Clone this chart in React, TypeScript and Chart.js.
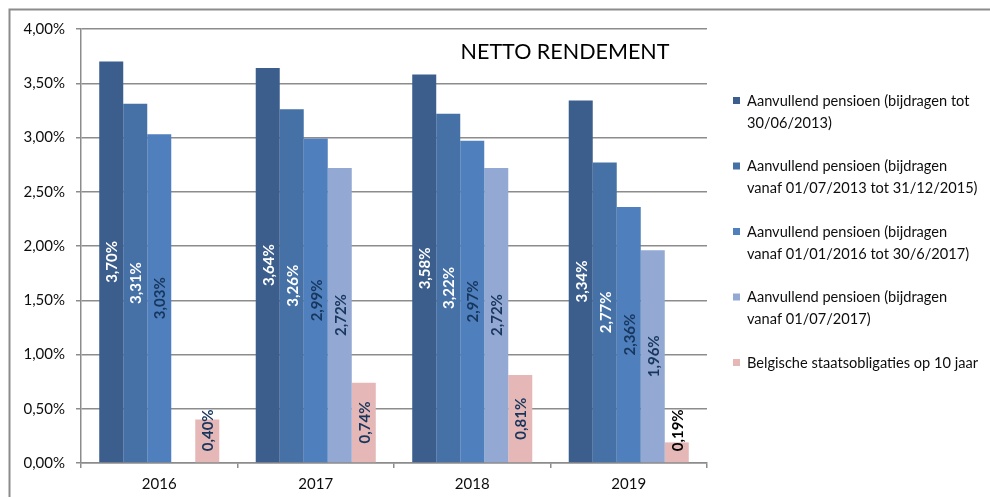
import React, { useEffect, useRef } from "react";
import { Chart, registerables } from "chart.js";

Chart.register(...registerables);

const categories = ["2016", "2017", "2018", "2019"];
const seriesLabels = [
  ["Aanvullend pensioen (bijdragen tot", "30/06/2013)"],
  ["Aanvullend pensioen (bijdragen", "vanaf 01/07/2013 tot 31/12/2015)"],
  ["Aanvullend pensioen (bijdragen", "vanaf 01/01/2016 tot 30/6/2017)"],
  ["Aanvullend pensioen (bijdragen", "vanaf 01/07/2017)"],
  ["Belgische staatsobligaties op 10 jaar"],
];
const s1 = [3.7, 3.64, 3.58, 3.34];
const s2 = [3.31, 3.26, 3.22, 2.77];
const s3 = [3.03, 2.99, 2.97, 2.36];
const s4 = [null, 2.72, 2.72, 1.96];
const s5 = [0.4, 0.74, 0.81, 0.19];
const seriesColors = ["#3B5E8C", "#4571A6", "#4F7FBC", "#93A9D3", "#E5B8B7"];
const labelColors = [
  ["#FFFFFF", "#FFFFFF", "#FFFFFF", "#FFFFFF"],
  ["#FFFFFF", "#FFFFFF", "#FFFFFF", "#FFFFFF"],
  ["#17365D", "#17365D", "#17365D", "#17365D"],
  ["#17365D", "#17365D", "#17365D", "#17365D"],
  ["#17365D", "#17365D", "#17365D", "#000000"],
];
const chartTitle = "NETTO RENDEMENT";
const FONT = "Lato, 'Open Sans', sans-serif";

const fmt = (v: number) => v.toFixed(2).replace(".", ",") + "%";

const decorPlugin = {
  id: "decor",
  beforeDraw(chart: any) {
    const ctx = chart.ctx;
    ctx.save();
    ctx.fillStyle = "#ffffff";
    ctx.fillRect(0, 0, chart.width, chart.height);
    ctx.strokeStyle = "#8c8c8c";
    ctx.lineWidth = 2;
    ctx.beginPath();
    ctx.moveTo(9.5, chart.height);
    ctx.lineTo(9.5, 9.5);
    ctx.lineTo(chart.width, 9.5);
    ctx.stroke();
    ctx.restore();
  },
  afterDatasetsDraw(chart: any) {
    const ctx = chart.ctx;
    ctx.save();
    ctx.font = "bold 15px " + FONT;
    ctx.textAlign = "center";
    ctx.textBaseline = "middle";
    chart.data.datasets.forEach((ds: any, di: number) => {
      const meta = chart.getDatasetMeta(di);
      meta.data.forEach((el: any, i: number) => {
        const v = ds.data[i];
        if (v === null || v === undefined) return;
        const text = fmt(v);
        const w = ctx.measureText(text).width;
        let cy = (el.y + el.base) / 2;
        cy = Math.min(cy, el.base - 11 - w / 2);
        ctx.save();
        ctx.translate(el.x + 1, cy);
        ctx.rotate(-Math.PI / 2);
        ctx.fillStyle = labelColors[di][i];
        ctx.fillText(text, 0, 0);
        ctx.restore();
      });
    });
    ctx.restore();
  },
  afterDraw(chart: any) {
    const ctx = chart.ctx;
    ctx.save();
    ctx.fillStyle = "#000000";
    ctx.font = "21.5px " + FONT;
    ctx.textAlign = "center";
    ctx.textBaseline = "middle";
    ctx.fillText(chartTitle, 565, 52);

    // legend
    ctx.font = "14.6px " + FONT;
    ctx.textAlign = "left";
    const startY = 101;
    const step = 65.5;
    const lineH = 22;
    seriesLabels.forEach((lines, i) => {
      const y = startY + i * step;
      ctx.fillStyle = seriesColors[i];
      ctx.fillRect(733, y - 4, 7, 7);
      ctx.fillStyle = "#0d0d0d";
      lines.forEach((ln, j) => {
        ctx.fillText(ln, 747, y + j * lineH);
      });
    });
    ctx.restore();
  },
};

export default function App() {
  const ref = useRef<HTMLCanvasElement>(null);
  useEffect(() => {
    document.body.style.margin = "0";
    const seriesData = [s1, s2, s3, s4, s5];
    const chart = new Chart(ref.current!, {
      type: "bar",
      data: {
        labels: categories,
        datasets: seriesData.map((d, i) => ({
          label: seriesLabels[i].join(" "),
          data: d as any,
          backgroundColor: seriesColors[i],
          borderWidth: 0,
          categoryPercentage: 0.767,
          barPercentage: 1,
        })),
      },
      options: {
        responsive: false,
        animation: false,
        layout: { padding: { top: 29, right: 283, bottom: 0, left: 0 } },
        plugins: {
          legend: { display: false },
          tooltip: { enabled: false },
          title: { display: false },
        },
        scales: {
          x: {
            afterFit: (s: any) => {
              s.height = 34;
            },
            grid: {
              offset: true,
              drawOnChartArea: false,
              drawTicks: true,
              tickLength: 5,
              color: "#8c8c8c",
              lineWidth: 1.5,
            },
            border: { display: true, color: "#8c8c8c", width: 1.5 },
            ticks: {
              color: "#0d0d0d",
              font: { family: FONT, size: 15 },
              padding: 7,
            },
          },
          y: {
            min: 0,
            max: 4,
            afterFit: (s: any) => {
              s.width = 81;
            },
            grid: {
              color: "#8c8c8c",
              lineWidth: 1.5,
              drawTicks: true,
              tickLength: 5,
            },
            border: { display: true, color: "#8c8c8c", width: 1.5 },
            ticks: {
              stepSize: 0.5,
              color: "#0d0d0d",
              font: { family: FONT, size: 15 },
              padding: 11,
              callback: (v: any) => fmt(Number(v)),
            },
          },
        },
      },
      plugins: [decorPlugin],
    });
    return () => chart.destroy();
  }, []);
  return <canvas ref={ref} width={990} height={497} style={{ display: "block" }} />;
}
